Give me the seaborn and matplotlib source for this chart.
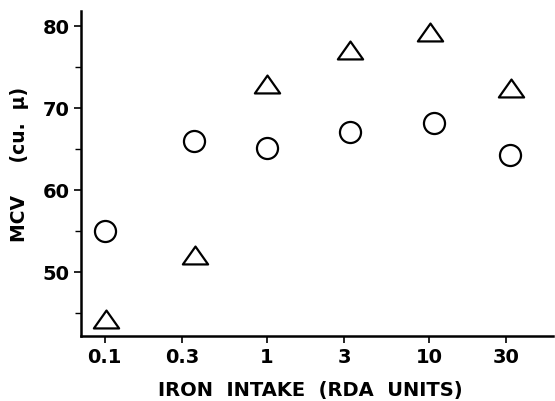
import numpy as np
import matplotlib
matplotlib.use('Agg')
import matplotlib.pyplot as plt
from matplotlib.path import Path
from matplotlib.ticker import FixedLocator, NullLocator
import seaborn as sns

# iron intake (RDA units) and mean corpuscular volume
intake_circle = [0.1, 0.355, 1.0, 3.25, 10.7, 31.5]
mcv_circle = [55.0, 66.0, 65.1, 67.0, 68.2, 64.3]

intake_triangle = [0.102, 0.36, 1.0, 3.25, 10.1, 32.0]
mcv_triangle = [44.2, 52.1, 72.9, 77.1, 79.3, 72.4]

xticks = [0.1, 0.3, 1, 3, 10, 30]
xticklabels = ['0.1', '0.3', '1', '3', '10', '30']
yticks = [50, 60, 70, 80]

sns.set_style('ticks')
plt.rcParams['font.family'] = ['DejaVu Sans']
plt.rcParams['text.color'] = 'black'
plt.rcParams['axes.labelcolor'] = 'black'
plt.rcParams['xtick.color'] = 'black'
plt.rcParams['ytick.color'] = 'black'

fig = plt.figure(figsize=(5.55, 4.02), dpi=100)
ax = fig.add_axes([0.146, 0.162, 0.85, 0.808])

# wide open triangle, closed path
tri = Path([(-1.2, -0.85), (1.2, -0.85), (0.0, 0.85), (-1.2, -0.85)],
           [Path.MOVETO, Path.LINETO, Path.LINETO, Path.CLOSEPOLY])
sns.scatterplot(x=intake_circle, y=mcv_circle, marker='o', s=230,
                color='white', edgecolor='black', linewidth=1.6, ax=ax, zorder=3)
sns.scatterplot(x=intake_triangle, y=mcv_triangle, marker=tri, s=330,
                color='white', edgecolor='black', linewidth=1.6, ax=ax, zorder=3)

ax.set_xscale('log')
ax.set_xlim(0.0716, 58)
ax.set_ylim(42.2, 81.8)

ax.xaxis.set_major_locator(FixedLocator(xticks))
ax.xaxis.set_minor_locator(NullLocator())
ax.set_xticklabels(xticklabels)
ax.set_yticks(yticks)
ax.yaxis.set_minor_locator(FixedLocator([45, 55, 65, 75]))

for s in ['top', 'right']:
    ax.spines[s].set_visible(False)
for s in ['left', 'bottom']:
    ax.spines[s].set_linewidth(1.8)
    ax.spines[s].set_color('black')

ax.tick_params(axis='both', which='major', length=5, width=1.2, direction='out',
               labelsize=14, pad=3)
ax.tick_params(axis='y', which='minor', length=4, width=1.0)
for lab in ax.get_xticklabels() + ax.get_yticklabels():
    lab.set_fontweight('bold')

ax.set_xlabel('IRON  INTAKE  (RDA  UNITS)', fontsize=14, fontweight='bold')
ax.set_ylabel('MCV     (cu.  \u03bc)', fontsize=13.5, fontweight='bold')
ax.xaxis.set_label_coords(0.487, -0.135)
ax.yaxis.set_label_coords(-0.11, 0.53)

fig.savefig('out.png', dpi=100)
